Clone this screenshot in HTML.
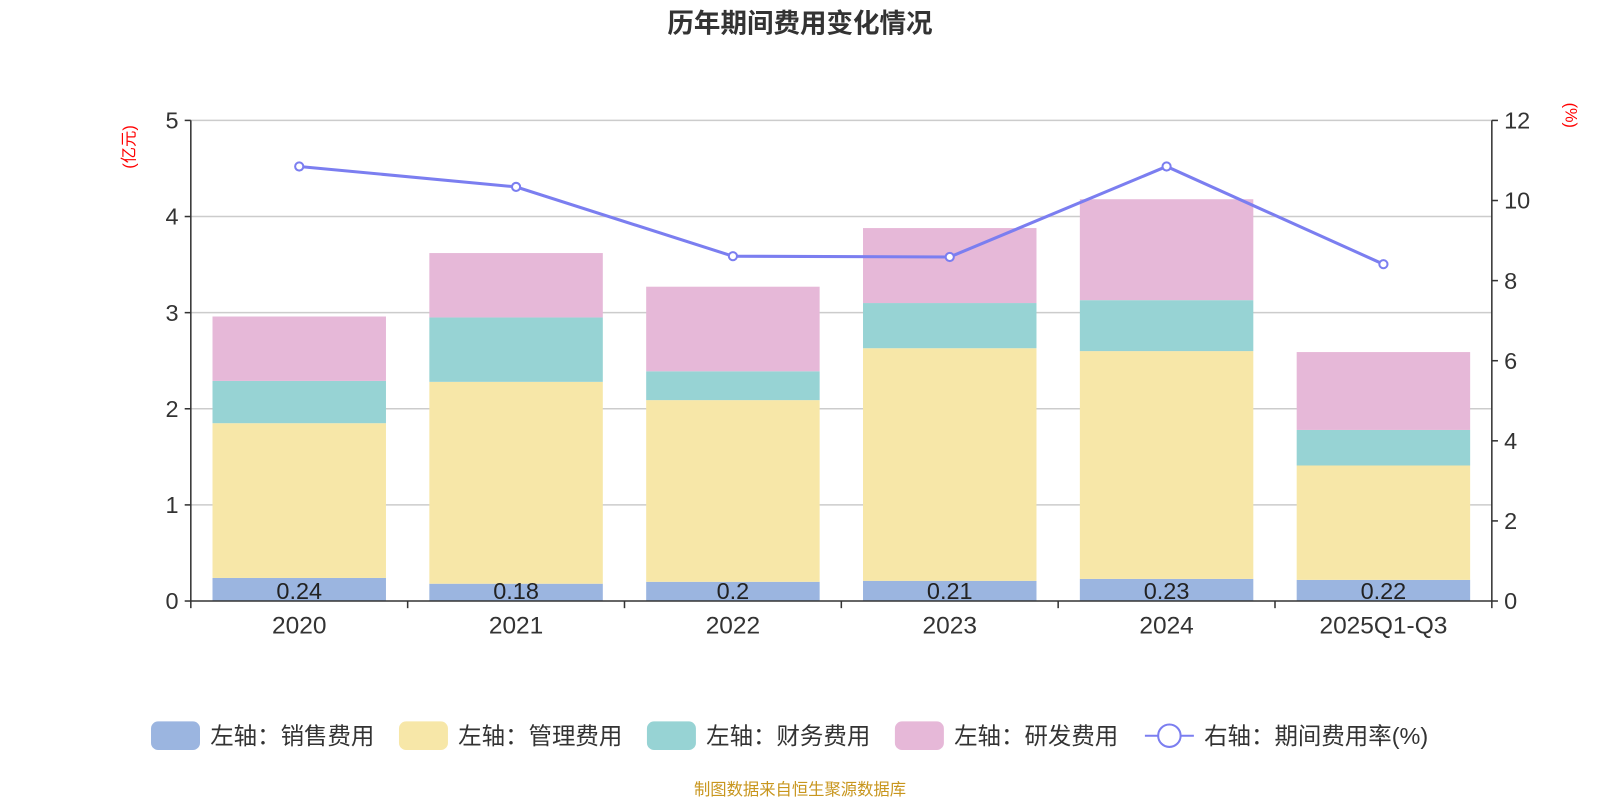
<!DOCTYPE html>
<html><head><meta charset="utf-8">
<style>
html,body{margin:0;padding:0;background:#fff;}
svg{display:block;font-family:"Liberation Sans","Noto Sans CJK SC",sans-serif;}
</style></head>
<body>
<svg id="chart" width="1600" height="800" viewBox="0 0 1568 784" xmlns="http://www.w3.org/2000/svg">
<text x="784" y="32" text-anchor="middle" font-size="26" font-weight="bold" fill="#333">历年期间费用变化情况</text>
<text transform="translate(132,144) rotate(-90)" text-anchor="middle" font-size="16" fill="#f00">(亿元)</text>
<text transform="translate(1534,113) rotate(90)" text-anchor="middle" font-size="16" fill="#f00">(%)</text>
<g id="grid"></g><g id="bars"></g><g id="axes"></g><g id="line"></g>
<g id="legend"></g>
<text x="784" y="779" text-anchor="middle" font-size="16" fill="#c8961e">制图数据来自恒生聚源数据库</text>
</svg>
<script>
const categories=["2020","2021","2022","2023","2024","2025Q1-Q3"];
const sales=[0.24,0.18,0.2,0.21,0.23,0.22];
const mgmt=[1.61,2.10,1.89,2.42,2.37,1.19];
const fin=[0.44,0.67,0.30,0.47,0.53,0.37];
const rd=[0.67,0.67,0.88,0.78,1.05,0.81];
const rate=[10.85,10.34,8.61,8.59,10.85,8.41];
const leftTicks=[0,1,2,3,4,5];
const rightTicks=[0,2,4,6,8,10,12];
const NS="http://www.w3.org/2000/svg";
const X0=187,X1=1462,Y0=589,Y1=118;
const band=(X1-X0)/categories.length;
const yL=v=>Y0-(Y0-Y1)*v/5;
const yR=v=>Y0-(Y0-Y1)*v/12;
const xc=i=>X0+band*(i+0.5);
function mk(tag,attrs,parent){const e=document.createElementNS(NS,tag);for(const k in attrs)e.setAttribute(k,attrs[k]);document.getElementById(parent).appendChild(e);return e;}
leftTicks.forEach(t=>{
  if(t>0){const g=mk('line',{x1:X0,x2:X1,y1:yL(t),y2:yL(t),stroke:'#ccc','stroke-width':1.5},'grid');
  
  }
  mk('line',{x1:X0-6,x2:X0,y1:yL(t),y2:yL(t),stroke:'#333','stroke-width':1.5},'axes');
  const tx=mk('text',{x:X0-12,y:yL(t)+8,'text-anchor':'end','font-size':23,fill:'#333'},'axes');
  tx.textContent=t;
  
  
});
rightTicks.forEach(t=>{
  mk('line',{x1:X1,x2:X1+6,y1:yR(t),y2:yR(t),stroke:'#333','stroke-width':1.5},'axes');
  const tx=mk('text',{x:X1+12,y:yR(t)+8,'font-size':23,fill:'#333'},'axes');
  tx.textContent=t;
  
  
});
mk('line',{x1:X0,x2:X0,y1:Y1,y2:Y0,stroke:'#333','stroke-width':1.5},'axes');
mk('line',{x1:X1,x2:X1,y1:Y1,y2:Y0,stroke:'#333','stroke-width':1.5},'axes');
mk('line',{x1:X0,x2:X1,y1:Y0,y2:Y0,stroke:'#333','stroke-width':1.5},'axes');
for(let i=0;i<=categories.length;i++)mk('line',{x1:X0+band*i,x2:X0+band*i,y1:Y0,y2:Y0+7,stroke:'#333','stroke-width':1.5},'axes');
const series=[[sales,'#9bb5e0','sales-bar'],[mgmt,'#f7e7a8','mgmt-bar'],[fin,'#97d3d4','finance-bar'],[rd,'#e6b8d8','rd-bar']];
categories.forEach((c,i)=>{
  let base=0;const w=band*0.8;
  series.forEach(([arr,col,nm])=>{
    const r=mk('rect',{x:xc(i)-w/2,y:yL(base+arr[i]),width:w,height:yL(base)-yL(base+arr[i]),fill:col},'bars');
    
    
    base+=arr[i];
  });
  const lb=mk('text',{x:xc(i),y:Y0-2,'text-anchor':'middle','font-size':23,fill:'#222'},'bars');
  lb.textContent=sales[i];
  
  
  const cl=mk('text',{x:xc(i),y:Y0+32,'text-anchor':'middle','font-size':24,fill:'#333'},'axes');
  cl.textContent=c;
  
  
});
const pl=mk('polyline',{points:rate.map((v,i)=>xc(i)+','+yR(v)).join(' '),fill:'none',stroke:'#7b7ef0','stroke-width':3},'line');


rate.forEach((v,i)=>{
  const p=mk('circle',{cx:xc(i),cy:yR(v),r:4,fill:'#fff',stroke:'#7b7ef0','stroke-width':2},'line');
  
  
});
const leg=[['左轴：销售费用','#9bb5e0',148],['左轴：管理费用','#f7e7a8',391],['左轴：财务费用','#97d3d4',634],['左轴：研发费用','#e6b8d8',877]];
leg.forEach(([t,c,x])=>{
  const r=mk('rect',{x:x,y:707,width:48,height:28,rx:7,fill:c},'legend');
  
  
  const tx=mk('text',{x:x+58,y:729,'font-size':23,fill:'#333'},'legend');
  tx.textContent=t;
  
  
});
mk('line',{x1:1122,x2:1170,y1:721,y2:721,stroke:'#7b7ef0','stroke-width':2},'legend');
const lc=mk('circle',{cx:1146,cy:721,r:11,fill:'#fff',stroke:'#7b7ef0','stroke-width':2},'legend');


const lt=mk('text',{x:1180,y:729,'font-size':23,fill:'#333'},'legend');
lt.textContent='右轴：期间费用率(%)';


</script>
</body></html>
